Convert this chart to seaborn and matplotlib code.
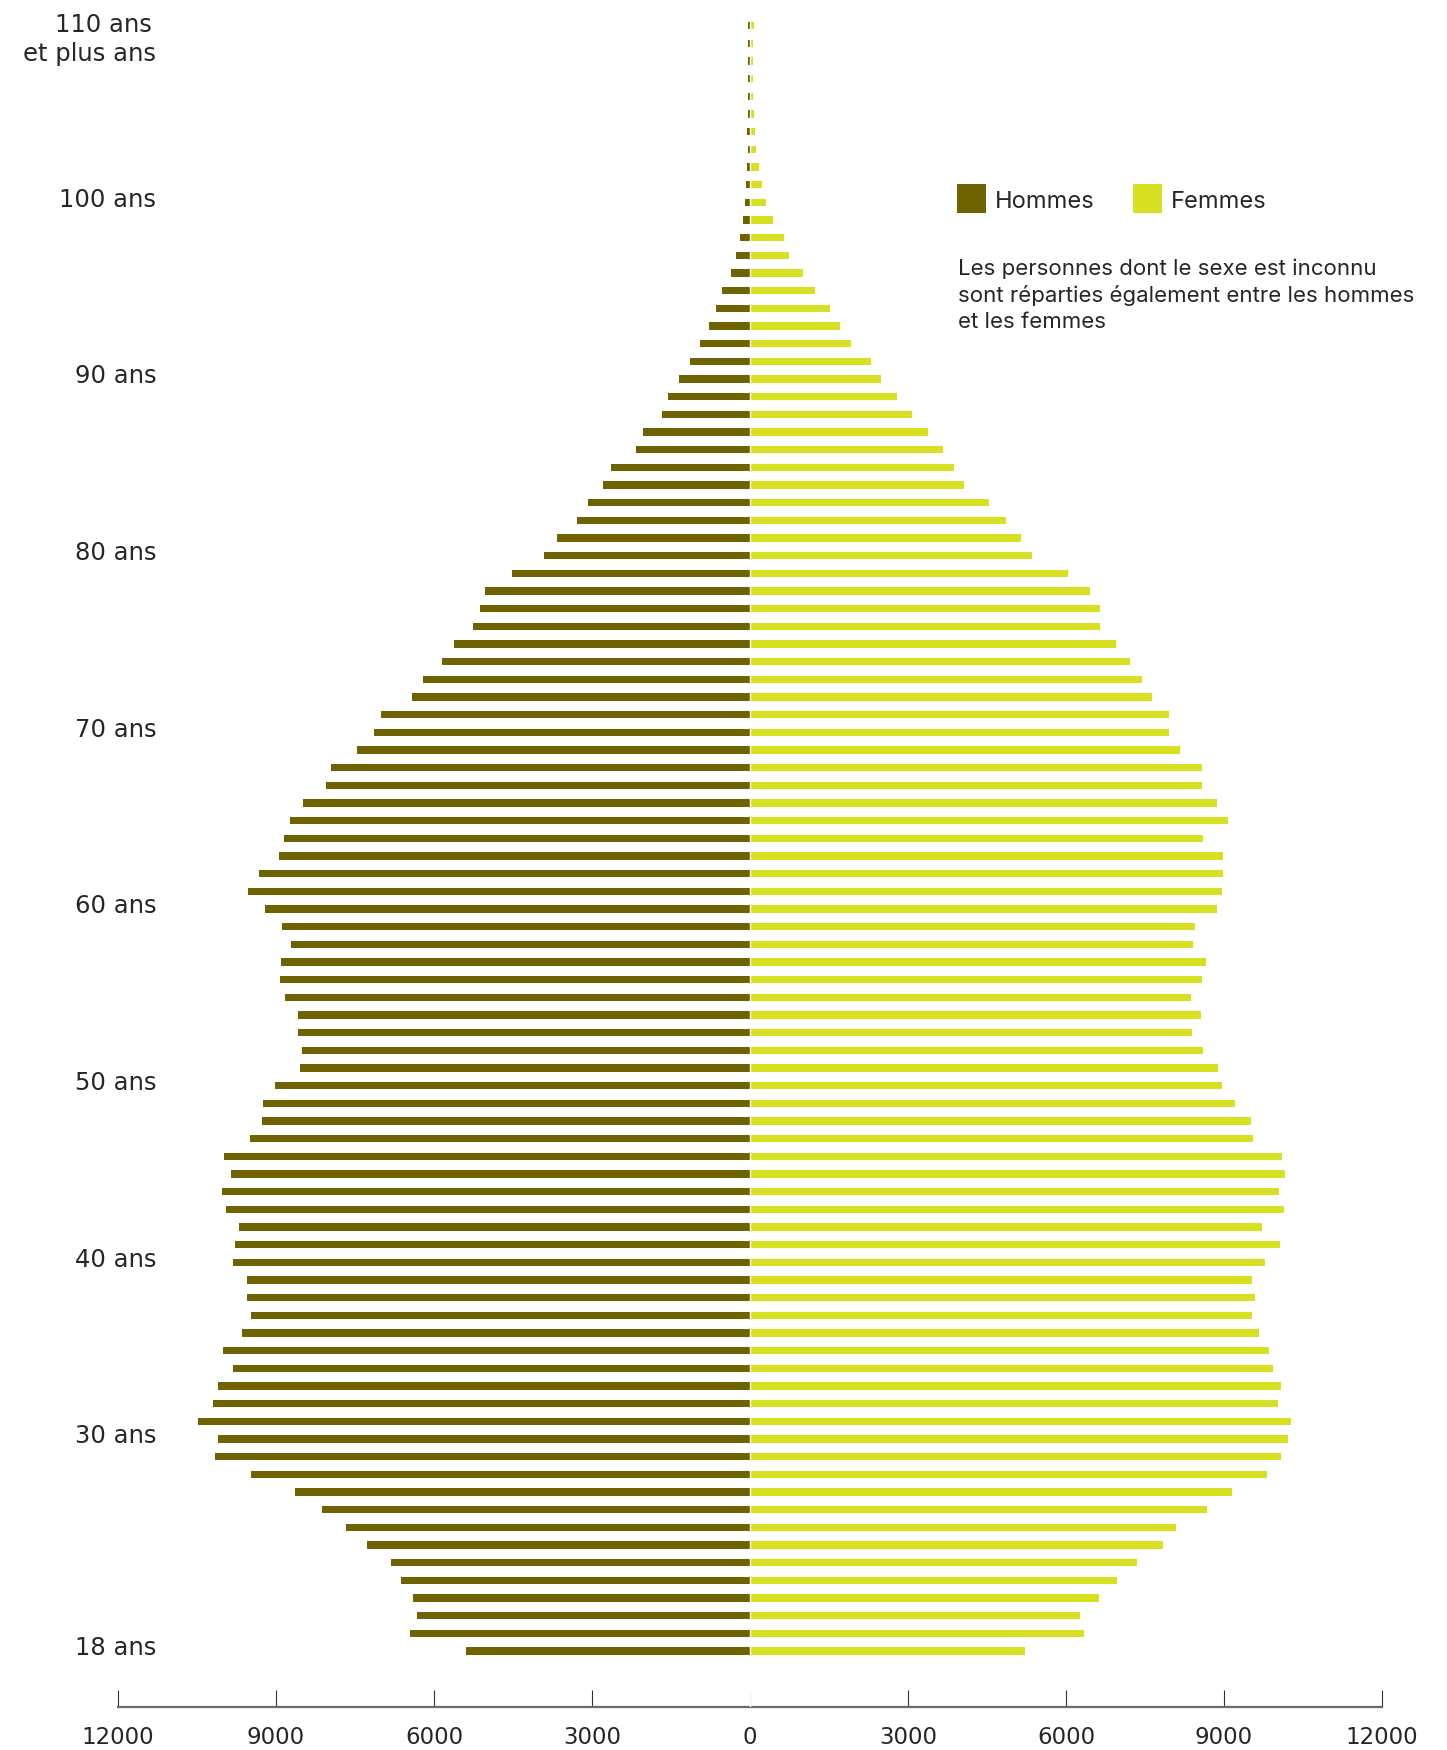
import matplotlib
matplotlib.use("Agg")
import matplotlib.pyplot as plt
import seaborn as sns
import pandas as pd
from matplotlib.patches import Rectangle

# ---------------- data ----------------
ages = list(range(18, 111))
hommes = [5400, 6450, 6330, 6400, 6630, 6820, 7270, 7670, 8120, 8640,
          9470, 10160, 10100, 10480, 10200, 10110, 9820, 10010, 9650, 9480,
          9560, 9560, 9820, 9780, 9710, 9950, 10030, 9860, 9990, 9500,
          9270, 9250, 9010, 8550, 8500, 8590, 8590, 8820, 8930, 8910,
          8710, 8880, 9200, 9540, 9330, 8950, 8840, 8740, 8480, 8060,
          7950, 7460, 7140, 7000, 6420, 6210, 5850, 5620, 5260, 5130,
          5040, 4510, 3920, 3670, 3290, 3070, 2800, 2630, 2160, 2030,
          1670, 1560, 1350, 1140, 950, 780, 640, 530, 370, 260,
          186, 129, 104, 85, 66, 47, 53, 47, 47, 40,
          40, 47, 47]
femmes = [5220, 6340, 6270, 6630, 6960, 7340, 7850, 8080, 8670, 9150,
          9810, 10080, 10210, 10280, 10020, 10090, 9930, 9850, 9660, 9530,
          9590, 9530, 9780, 10060, 9720, 10140, 10040, 10160, 10100, 9550,
          9510, 9210, 8960, 8880, 8600, 8390, 8560, 8370, 8580, 8650,
          8410, 8440, 8860, 8960, 8980, 8980, 8600, 9070, 8860, 8580,
          8580, 8160, 7950, 7950, 7630, 7440, 7210, 6940, 6650, 6650,
          6460, 6040, 5360, 5150, 4860, 4540, 4060, 3870, 3660, 3380,
          3070, 2790, 2480, 2290, 1910, 1700, 1510, 1240, 1000, 740,
          640, 440, 310, 230, 170, 120, 95, 80, 50, 50,
          50, 50, 70]
label_ages = [18, 30, 40, 50, 60, 70, 80, 90, 100]
label_texts = ["18 ans", "30 ans", "40 ans", "50 ans", "60 ans", "70 ans",
               "80 ans", "90 ans", "100 ans"]
top_label = ["110 ans", "et plus ans"]
xticks = [-12000, -9000, -6000, -3000, 0, 3000, 6000, 9000, 12000]
xtick_labels = ["12000", "9000", "6000", "3000", "0", "3000", "6000", "9000", "12000"]
series_names = ["Hommes", "Femmes"]
note = ("Les personnes dont le sexe est inconnu\n"
        "sont réparties également entre les hommes\n"
        "et les femmes")

colors = {"Hommes": "#6E6300", "Femmes": "#D8E022"}
text_color = "#262626"

n = len(ages)
df = pd.DataFrame({
    "age": ages * 2,
    "valeur": [-v for v in hommes] + femmes,
    "sexe": ["Hommes"] * n + ["Femmes"] * n,
})

W, H = 1447, 1750
fig = plt.figure(figsize=(W / 100, H / 100), dpi=100)
fig.patch.set_facecolor("white")
ax = fig.add_axes([118 / W, 43 / H, 1264 / W, 1699 / H])

sns.barplot(data=df, x="valeur", y="age", hue="sexe", orient="h",
            native_scale=True, dodge=False, palette=colors, width=0.43,
            errorbar=None, legend=False, saturation=1, ax=ax, linewidth=0)

ax.axvline(0, color="white", lw=1.0, zorder=5)

ax.set_xlim(-12000, 12000)
ax.set_ylim(14.83, 111.0)
ax.set_yticks([])
ax.set_xlabel("")
ax.set_ylabel("")
ax.set_xticks(xticks)
ax.set_xticklabels(xtick_labels)
for s in ["top", "left", "right"]:
    ax.spines[s].set_visible(False)
ax.spines["bottom"].set_color("#6b6b6b")
ax.spines["bottom"].set_linewidth(1.6)
ax.tick_params(axis="x", direction="in", length=12, width=0.8, color="#333333",
               pad=14, labelsize=16.5, labelcolor=text_color)
ax.set_facecolor("white")

label_font = dict(family="DejaVu Sans", fontsize=17.5, color=text_color)
for a, t in zip(label_ages, label_texts):
    ax.text(-11271, a + 0.16, t, ha="right", va="center", **label_font)
ax.text(-11366, 110 + 0.05, top_label[0], ha="right", va="center", **label_font)
ax.text(-11271, 108.55 - 0.14, top_label[1], ha="right", va="center", **label_font)

# legend
lg_font = dict(family=["Inter", "DejaVu Sans"], color=text_color)
for x_sq, x_tx, name in [(957, 995, series_names[0]), (1133, 1171, series_names[1])]:
    fig.patches.append(Rectangle((x_sq / W, 1 - 213 / H), 29 / W, 29 / H,
                                 transform=fig.transFigure, facecolor=colors[name],
                                 edgecolor="none"))
    fig.text(x_tx / W, 1 - 208.3 / H, name, ha="left", va="baseline",
             fontsize=17, **lg_font)

# note: baseline of the last line (first line baseline ~274 px, line step ~26.7 px)
fig.text(958 / W, 1 - 327.5 / H, note, ha="left", va="baseline", fontsize=16,
         linespacing=1.34, **lg_font)

fig.savefig("out.png", dpi=100, facecolor="white")
